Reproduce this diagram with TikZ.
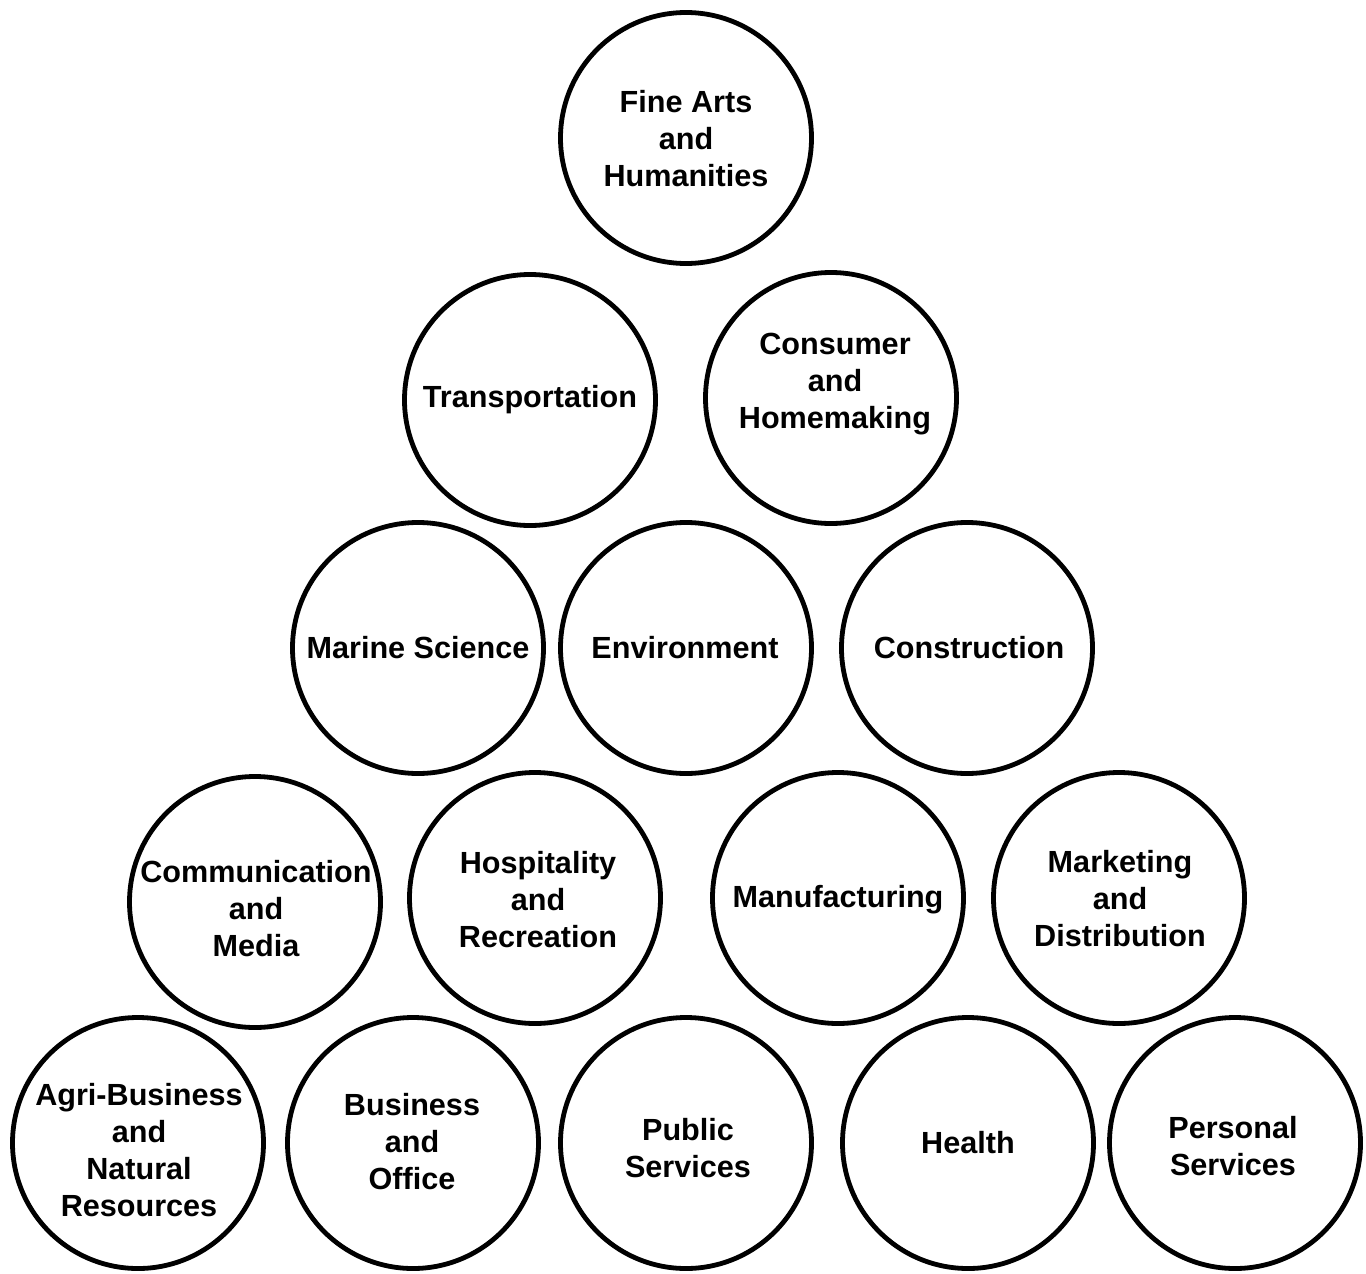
\documentclass[tikz,border=0pt]{standalone}
\usepackage{fontspec}
\setmainfont{Liberation Sans}
\begin{document}
\begin{tikzpicture}[x=0.5pt,y=-0.5pt,
  ring/.style={circle,draw=black,line width=2.4pt,minimum size=125.5pt,inner sep=0pt},
  lbl/.style={align=center,inner sep=0pt,font=\fontsize{15.3}{18.5}\selectfont\bfseries}]
\useasboundingbox (0,0) rectangle (1366,1274);
% row 1
\node[ring] (c1) at (686,138) {};
% row 2
\node[ring] (c2) at (530,400) {};
\node[ring] (c3) at (831,398) {};
% row 3
\node[ring] (c4) at (418,648) {};
\node[ring] (c5) at (686,648) {};
\node[ring] (c6) at (967,648) {};
% row 4
\node[ring] (c7) at (255,902) {};
\node[ring] (c8) at (535,898) {};
\node[ring] (c9) at (838,898) {};
\node[ring] (c10) at (1119,898) {};
% row 5
\node[ring] (c11) at (138,1143) {};
\node[ring] (c12) at (413,1143) {};
\node[ring] (c13) at (686,1143) {};
\node[ring] (c14) at (968,1143) {};
\node[ring] (c15) at (1235,1143) {};
% labels
\node[lbl] (t1) at (686,139) {Fine Arts\\and\\Humanities};
\node[lbl] (t2) at (530,400) {Transportation};
\node[lbl] (t3) at (835,384) {Consumer\\and\\Homemaking};
\node[lbl] (t4) at (418,648) {Marine Science};
\node[lbl] (t5) at (685,648) {Environment};
\node[lbl] (t6) at (969,648) {Construction};
\node[lbl] (t7) at (256,909) {Communication\\and\\Media};
\node[lbl] (t8) at (538,900) {Hospitality\\and\\Recreation};
\node[lbl] (t9) at (838,900) {Manufacturing};
\node[lbl] (t10) at (1120,899) {Marketing\\and\\Distribution};
\node[lbl] (t11) at (139,1150) {Agri-Business\\and\\Natural\\Resources};
\node[lbl] (t12) at (412,1142) {Business\\and\\Office};
\node[lbl] (t13) at (688,1148) {Public\\Services};
\node[lbl] (t14) at (968,1143) {Health};
\node[lbl] (t15) at (1233,1146) {Personal\\Services};
\end{tikzpicture}
\end{document}
